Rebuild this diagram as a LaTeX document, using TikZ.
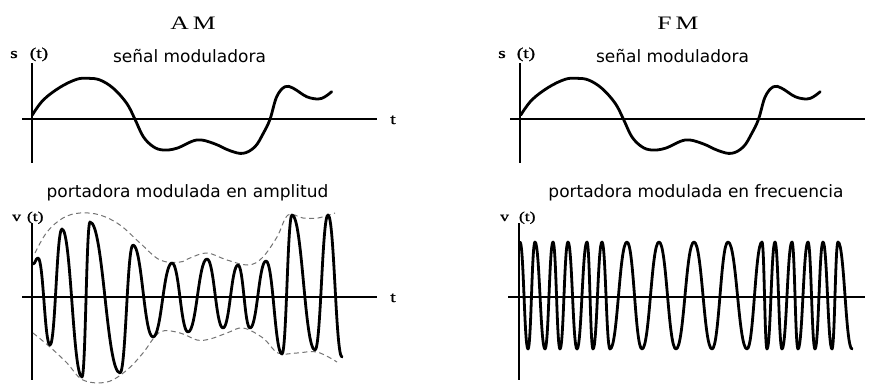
\documentclass[tikz,border=0pt]{standalone}
\usepackage{fontspec}
\setmainfont{Liberation Serif}
\newfontfamily\lblfont{DejaVu Sans}
\newfontfamily\widefont[FakeStretch=1.35]{Liberation Serif}
\newfontfamily\widebold[FakeStretch=1.3,FakeBold=1.2]{Liberation Serif}
\newcommand\extremawave[3]{%
  \draw[wave] (#1,#2)
  \foreach \xx/\yy [remember=\xx as \px (initially #1), remember=\yy as \py (initially #2)] in {#3}
  { .. controls ({\px+0.45*(\xx-\px)},\py) and ({\xx-0.45*(\xx-\px)},\yy) .. (\xx,\yy) };
}
\newcommand\drawmodsig{%
  \draw[wave] plot[smooth, tension=0.6] coordinates {(32.3,115) (43.3,100) (60,87.3) (76.7,79.3) (88.3,78.3) (100,80) (113.3,88.3) (126.7,103.3) (135,119.3) (143.3,136.7) (153.3,146.7) (163.3,150) (176.7,148.3) (196.7,140) (213.3,143.3) (230,150.7) (243.3,153.3) (255,146.7) (263.3,133.3) (270,119.3) (276.7,96.7) (285,86.7) (293.3,88.3) (306.7,96.7) (318.3,99) (325,96.7) (331.7,91.7)};
}
\begin{document}
\begin{tikzpicture}[x=1pt,y=-1pt,
  wave/.style={line width=2.8pt, line join=round, line cap=round},
  axis/.style={line width=2pt},
  env/.style={black!55, line width=1pt, dash pattern=on 5pt off 3.5pt},
  titletext/.style={font=\widefont\fontsize{19}{21}\selectfont, inner sep=0pt, anchor=base},
  captext/.style={font=\lblfont\fontsize{17}{19}\selectfont, inner sep=0pt, anchor=base},
  smalltext/.style={font=\widebold\fontsize{15}{17}\selectfont, inner sep=0pt, anchor=base},
  vtext/.style={font=\widebold\fontsize{13.5}{16}\selectfont, inner sep=0pt, anchor=base west}]
\useasboundingbox (0,0) rectangle (878,383);

% titles and labels
\node[titletext] (am) at (193,29) {A\hspace{4pt}M};
\node[titletext] (fm) at (678,29) {F\hspace{4pt}M};
\node[captext] (sm1) at (189.5,62) {señal moduladora};
\node[captext] (sm2) at (672.5,62) {señal moduladora};
\node[captext] (pa) at (187.5,197) {portadora modulada en amplitud};
\node[captext] (pf) at (696,197) {portadora modulada en frecuencia};
\node[smalltext, anchor=base west] (s1) at (10,58) {s\hspace{12pt}(t)};
\node[smalltext, anchor=base west] (s2) at (498,58) {s\hspace{11pt}(t)};
\node[vtext] (v1) at (12,221) {v\hspace{6pt}(t)};
\node[vtext] (v2) at (500,221) {v\hspace{10pt}(t)};
\node[smalltext] (t1) at (393,124) {t};
\node[smalltext] (t2) at (393,302) {t};

% axes
\coordinate (a1t) at (32,63);   \coordinate (a1b) at (32,163);
\coordinate (h1l) at (22,119);  \coordinate (h1r) at (377,119);
\coordinate (a2t) at (520,63);  \coordinate (a2b) at (520,163);
\coordinate (h2l) at (510,119); \coordinate (h2r) at (865,119);
\coordinate (a3t) at (32,223);  \coordinate (a3b) at (32,380);
\coordinate (h3l) at (22,297);  \coordinate (h3r) at (377,297);
\coordinate (a4t) at (519,223); \coordinate (a4b) at (519,380);
\coordinate (h4l) at (508,297); \coordinate (h4r) at (865,297);
\draw[axis] (a1t) -- (a1b);
\draw[axis] (h1l) -- (h1r);
\draw[axis] (a2t) -- (a2b);
\draw[axis] (h2l) -- (h2r);
\draw[axis] (a3t) -- (a3b);
\draw[axis] (h3l) -- (h3r);
\draw[axis] (a4t) -- (a4b);
\draw[axis] (h4l) -- (h4r);

% modulating signals
\drawmodsig
\begin{scope}[xshift=488.5pt]
\drawmodsig
\end{scope}

% AM envelope
\draw[env] plot[smooth, tension=0.6] coordinates {(35,253) (47,232) (63,218) (80,213) (100,215) (120,225) (140,243) (160,260) (180,262) (190,258) (207,253) (227,260) (248,265) (262,258) (277,237) (288,215) (303,218) (318,218) (335,213)};
\draw[env] plot[smooth, tension=0.6] coordinates {(33,333) (50,347) (67,363) (83,380) (107,382) (127,370) (143,353) (160,332) (180,333) (197,340) (210,339) (227,333) (243,328) (263,338) (278,353) (297,353) (317,352) (337,362)};

% AM carrier
\extremawave{33}{264}{38/258, 50/345, 62/229, 82/377, 90/222, 120/373, 133/245, 153/337, 172/263, 188/332, 207/259, 223/328, 238/265, 250/328, 266/261, 282/354, 292/215, 315/350, 328/215, 342/357}

% FM carrier
\extremawave{520}{242}{528/349, 535/242, 545/349, 553/242, 560/349, 568/242, 577/349, 587/242, 593/349, 602/242, 610/349, 627/242, 642/349, 659/242, 676/349, 694/242, 712/349, 728/242, 747/349, 762/242, 767/349, 775/242, 782/349, 792/242, 798/349, 808/242, 815/349, 823/242, 832/349, 838/242, 852/349}
\end{tikzpicture}
\end{document}
